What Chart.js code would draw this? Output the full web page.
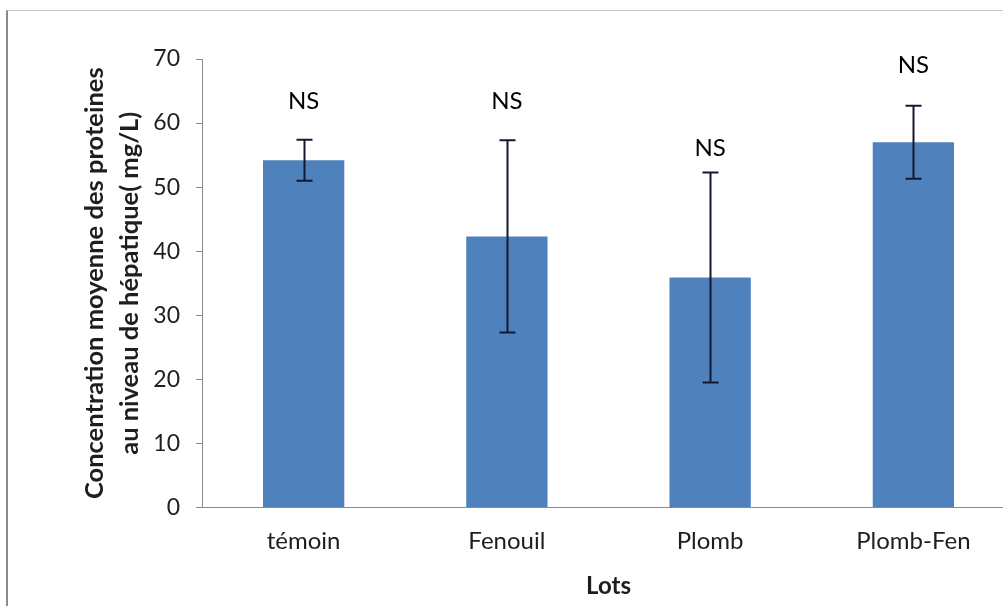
<!DOCTYPE html>
<html>
<head>
<meta charset="utf-8">
<script src="https://cdn.jsdelivr.net/npm/chart.js@4.4.1/dist/chart.umd.min.js"></script>
<style>
  html, body { margin: 0; padding: 0; background: #fff; overflow: hidden; width: 1003px; height: 606px; }
  #c { position: absolute; left: 0; top: 0; }
  #frame { position: absolute; left: 6px; top: 10px; width: 1100px; height: 700px;
           border-left: 2px solid #8a8a8a; border-top: 1px solid #c4c4c4;
           box-sizing: border-box; pointer-events: none; }
</style>
</head>
<body>
<canvas id="c" width="1030" height="606"></canvas>
<div id="frame"></div>
<script>
// Mean hepatic protein concentration per group (mg/L) with standard deviation
const lots = ['témoin', 'Fenouil', 'Plomb', 'Plomb-Fen'];
const meanProt = [54.2, 42.3, 35.9, 57.0];
const sdProt = [3.2, 15.0, 16.4, 5.7];
// Significance notes and the level (mg/L) at which each is written
const signif = ['NS', 'NS', 'NS', 'NS'];
const signifLevel = [63.4, 63.4, 56.1, 69.0];
const yTicks = [0, 10, 20, 30, 40, 50, 60, 70];

const FONT = 'Lato, "Open Sans", sans-serif';

const errorBars = {
  id: 'errorBars',
  afterDatasetsDraw(chart) {
    const ctx = chart.ctx;
    const y = chart.scales.y;
    const meta = chart.getDatasetMeta(0);
    ctx.save();
    ctx.strokeStyle = '#14182e';
    ctx.lineWidth = 2;
    meta.data.forEach((bar, i) => {
      const x = Math.round(bar.x) + 0.5;
      const top = y.getPixelForValue(meanProt[i] + sdProt[i]);
      const bot = y.getPixelForValue(meanProt[i] - sdProt[i]);
      const cap = 8;
      ctx.beginPath();
      ctx.moveTo(x, top); ctx.lineTo(x, bot);
      ctx.moveTo(x - cap, top); ctx.lineTo(x + cap, top);
      ctx.moveTo(x - cap, bot); ctx.lineTo(x + cap, bot);
      ctx.stroke();
    });
    ctx.restore();
  }
};

const notes = {
  id: 'notes',
  afterDatasetsDraw(chart) {
    const ctx = chart.ctx;
    const y = chart.scales.y;
    const meta = chart.getDatasetMeta(0);
    ctx.save();
    ctx.fillStyle = '#000';
    ctx.font = '24px ' + FONT;
    ctx.textAlign = 'center';
    ctx.textBaseline = 'middle';
    meta.data.forEach((bar, i) => {
      ctx.fillText(signif[i], bar.x, y.getPixelForValue(signifLevel[i]));
    });
    ctx.restore();
  }
};

new Chart(document.getElementById('c'), {
  type: 'bar',
  data: {
    labels: lots,
    datasets: [{
      data: meanProt,
      backgroundColor: '#4f81bd',
      borderWidth: 0,
      barPercentage: 0.4,
      categoryPercentage: 1.0
    }]
  },
  options: {
    responsive: false,
    animation: false,
    layout: { padding: { left: 0, top: 59, right: 15, bottom: 0 } },
    plugins: { legend: { display: false }, tooltip: { enabled: false } },
    scales: {
      x: {
        grid: { display: false, drawTicks: false },
        border: { display: true, color: '#8a8a8a', width: 1 },
        ticks: { color: '#1e1e1e', font: { family: FONT, size: 24 }, padding: 19 },
        title: { display: true, text: 'Lots', color: '#1e1e1e',
                 font: { family: FONT, size: 24, weight: 'bold' }, padding: { top: 0, bottom: 5 } },
        afterFit(s) { s.height = 98.5; }
      },
      y: {
        min: 0, max: 70,
        afterBuildTicks(s) { s.ticks = yTicks.map(v => ({ value: v })); },
        grid: { display: true, drawOnChartArea: false, drawTicks: true, tickLength: 6, color: '#8a8a8a' },
        border: { display: true, color: '#8a8a8a', width: 1 },
        ticks: { color: '#1e1e1e', font: { family: FONT, size: 23 }, padding: 16 },
        title: { display: true,
                 text: ['Concentration moyenne des proteines', 'au niveau de hépatique( mg/L)'],
                 color: '#1e1e1e',
                 font: { family: FONT, size: 25.5, weight: 'bold', lineHeight: '35px' },
                 padding: { top: 77.5, bottom: 0 } },
        afterFit(s) { s.width = 202; }
      }
    }
  },
  plugins: [errorBars, notes]
});
</script>
</body>
</html>
